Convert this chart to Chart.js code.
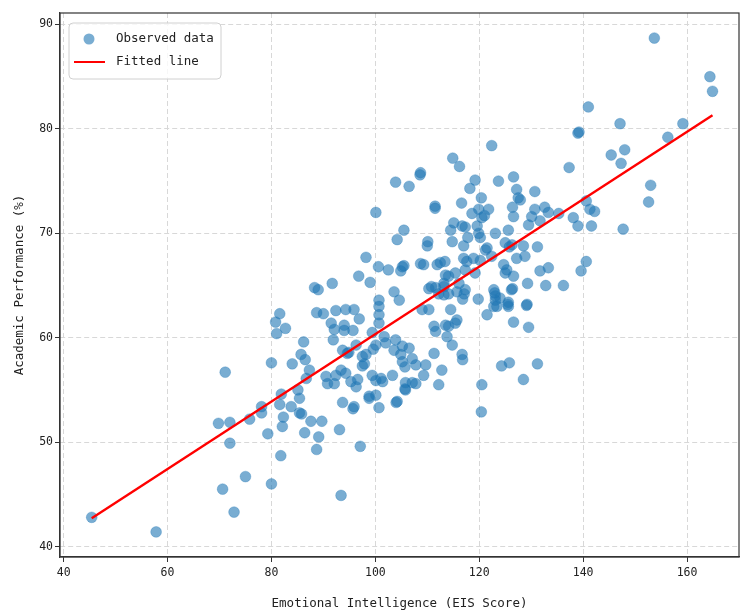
<!DOCTYPE html>
<html>
<head>
<meta charset="utf-8">
<script src="https://cdn.jsdelivr.net/npm/chart.js@4.4.1/dist/chart.umd.min.js"></script>
<style>
  html, body { margin: 0; padding: 0; background: #fff; }
  #wrap { width: 740px; height: 612px; position: relative; }
</style>
</head>
<body>
<div id="wrap"><canvas id="chart"></canvas></div>
<script>
// EIS score (x) and academic performance % (y)
const eisScores = [
    45.4, 57.8, 69.8, 70.6, 71.1, 72.0, 72.0, 72.8, 75.0, 75.8,
    78.1, 78.1, 79.3, 80.0, 80.0, 81.8, 81.6, 80.8, 81.0, 82.7,
    84.0, 85.7, 86.5, 86.2, 87.3, 86.7, 81.9, 81.6, 82.3, 82.1,
    83.8, 85.1, 85.4, 85.4, 85.8, 87.6, 86.4, 89.1, 88.7, 89.7,
    93.1, 93.7, 95.7, 97.1, 93.4, 88.3, 89.0, 91.7, 88.7, 90.0,
    91.5, 92.4, 94.3, 95.9, 96.9, 92.1, 91.9, 94.0, 94.0, 95.7,
    99.4, 96.3, 94.9, 98.2, 97.5, 90.5, 90.8, 92.1, 92.4, 93.4,
    94.3, 95.3, 96.6, 96.3, 99.4, 100.1, 98.8, 99.6, 100.7, 104.0,
    98.8, 100.1, 93.7, 94.6, 97.9, 101.1, 101.4, 103.3, 95.9, 100.1,
    102.0, 101.7, 97.5, 96.8, 99.0, 98.2, 100.6, 102.5, 100.1, 103.9,
    106.5, 108.7, 108.6, 111.5, 111.5, 114.9, 116.2, 105.5, 104.2, 104.9,
    105.5, 110.0, 110.1, 108.7, 109.3, 111.9, 112.5, 113.4, 114.5, 115.1,
    114.8, 113.5, 115.4, 110.8, 111.6, 103.6, 100.7, 113.2, 104.6, 100.7,
    100.7, 100.7, 105.2, 103.9, 103.6, 105.2, 106.5, 104.9, 105.2, 107.1,
    107.8, 109.7, 109.3, 105.8, 107.1, 107.8, 105.8, 104.2, 112.2, 112.8,
    111.3, 114.8, 116.7, 116.8, 113.8, 114.1, 111.3, 111.6, 113.5, 115.4,
    115.7, 114.5, 109.0, 110.3, 120.5, 124.3, 125.8, 126.6, 121.5, 122.8,
    123.1, 124.0, 125.6, 119.8, 114.1, 116.8, 115.7, 110.3, 112.2, 113.2,
    117.1, 126.2, 125.0, 126.6, 119.2, 117.3, 117.6, 121.2, 123.1, 125.0,
    126.3, 139.0, 139.2, 122.4, 137.3, 119.2, 118.2, 123.7, 126.6, 127.2,
    127.5, 130.7, 120.4, 116.6, 119.9, 121.8, 126.4, 126.6, 118.6, 120.5,
    121.0, 130.1, 130.7, 132.6, 133.3, 135.3, 138.1, 139.0, 141.3, 142.2,
    141.6, 129.5, 131.7, 116.7, 117.3, 119.6, 119.9, 125.6, 117.8, 120.2,
    117.0, 121.5, 125.8, 128.5, 131.2, 117.0, 118.9, 120.2, 122.4, 127.2,
    128.8, 124.7, 125.3, 131.7, 133.3, 140.6, 139.6, 129.3, 132.8, 136.2,
    126.4, 122.8, 123.1, 114.1, 116.1, 117.3, 113.2, 125.6, 129.2, 153.7,
    164.4, 164.9, 141.0, 147.1, 159.2, 156.3, 145.4, 148.0, 147.3, 153.0,
    152.6, 140.6, 147.7, 127.9, 120.4, 131.2, 128.5, 105.7, 105.7, 123.0,
    123.4, 125.5, 129.5, 129.1
];
const perfScores = [
    42.8, 41.4, 51.8, 45.5, 56.7, 51.9, 49.9, 43.3, 46.7, 52.2,
    53.4, 52.8, 50.8, 46.0, 57.6, 48.7, 62.3, 61.5, 60.4, 60.9,
    57.5, 58.4, 57.9, 59.6, 56.9, 56.1, 54.6, 53.6, 52.4, 51.5,
    53.4, 55.0, 54.2, 52.8, 52.7, 52.0, 50.9, 50.5, 49.3, 52.0,
    51.2, 53.8, 53.2, 49.6, 44.9, 64.8, 64.6, 65.2, 62.4, 62.3,
    61.4, 62.6, 62.7, 62.7, 61.8, 60.8, 59.8, 61.2, 60.7, 60.7,
    60.5, 59.3, 58.6, 58.4, 57.3, 56.3, 55.6, 55.6, 56.4, 56.9,
    56.6, 55.8, 56.0, 55.3, 56.4, 55.9, 54.4, 58.9, 53.3, 53.8,
    54.2, 54.5, 58.8, 58.5, 57.5, 56.1, 55.8, 56.4, 53.4, 59.3,
    59.5, 60.1, 58.2, 65.9, 65.3, 67.7, 66.8, 66.5, 72.0, 74.9,
    74.5, 75.8, 75.6, 72.6, 72.4, 77.2, 76.4, 70.3, 69.4, 66.4,
    66.9, 68.8, 69.2, 67.1, 67.0, 67.0, 67.2, 67.3, 70.3, 71.0,
    69.2, 66.0, 66.2, 64.9, 64.8, 64.4, 63.6, 65.2, 63.6, 63.0,
    62.2, 61.4, 66.8, 59.8, 58.8, 59.2, 59.0, 58.4, 57.7, 58.0,
    57.4, 57.4, 56.4, 55.7, 55.7, 55.6, 55.0, 53.9, 55.5, 56.9,
    58.5, 59.3, 58.4, 57.9, 60.1, 61.1, 61.1, 60.6, 61.2, 61.4,
    61.7, 62.7, 62.7, 62.7, 55.5, 57.3, 57.6, 61.5, 62.2, 63.0,
    63.6, 63.8, 63.0, 63.7, 64.2, 63.7, 64.4, 64.7, 64.2, 64.1,
    64.2, 64.6, 66.2, 65.9, 66.2, 66.5, 67.3, 68.4, 70.0, 69.1,
    68.9, 79.6, 79.7, 78.4, 76.3, 75.1, 74.3, 75.0, 75.4, 74.2,
    73.4, 74.0, 73.4, 72.9, 72.3, 72.3, 72.5, 71.6, 71.9, 71.5,
    71.7, 71.6, 72.3, 72.5, 72.0, 71.9, 71.5, 70.7, 72.3, 72.1,
    70.7, 70.8, 71.2, 70.7, 70.6, 70.7, 70.0, 70.3, 69.6, 69.6,
    68.8, 68.6, 68.7, 68.8, 68.7, 67.6, 67.6, 67.4, 67.8, 67.6,
    67.8, 67.0, 66.5, 66.4, 66.7, 67.3, 66.4, 65.2, 65.0, 65.0,
    64.7, 64.6, 64.0, 65.9, 65.2, 64.6, 64.9, 63.4, 63.2, 88.7,
    85.0, 83.6, 82.1, 80.5, 80.5, 79.2, 77.5, 78.0, 76.7, 74.6,
    73.0, 73.1, 70.4, 73.2, 52.9, 57.5, 56.0, 57.2, 55.1, 64.3,
    63.0, 63.2, 61.0, 63.1
];

// end points of the fitted regression line
const fitX = [45.4, 164.9];
const fitY = [42.7, 81.3];

const xTicks = [40, 60, 80, 100, 120, 140, 160];
const yTicks = [40, 50, 60, 70, 80, 90];

const FONT = "'DejaVu Sans Mono', monospace";
const TEXT = '#222';

// box around the plot + legend in the upper-left corner (matplotlib style)
const framePlugin = {
    id: 'frame',
    afterDraw(chart) {
        const { ctx, chartArea: a } = chart;
        ctx.save();
        ctx.strokeStyle = '#333';
        ctx.lineWidth = 1.2;
        ctx.strokeRect(a.left, a.top, a.right - a.left, a.bottom - a.top);

        // legend
        const lx = a.left + 9, ly = a.top + 10, lw = 152, lh = 56;
        ctx.beginPath();
        ctx.roundRect(lx, ly, lw, lh, 4);
        ctx.fillStyle = 'rgba(255,255,255,0.8)';
        ctx.fill();
        ctx.strokeStyle = '#d0d0d0';
        ctx.lineWidth = 1;
        ctx.stroke();

        const ds = chart.data.datasets;
        ctx.beginPath();
        ctx.arc(lx + 20, ly + 16, 5.5, 0, Math.PI * 2);
        ctx.fillStyle = 'rgba(31,119,180,0.6)';
        ctx.fill();

        ctx.beginPath();
        ctx.moveTo(lx + 5, ly + 39);
        ctx.lineTo(lx + 36, ly + 39);
        ctx.strokeStyle = '#ff0000';
        ctx.lineWidth = 2;
        ctx.stroke();

        ctx.fillStyle = TEXT;
        ctx.font = '12.5px ' + FONT;
        ctx.textBaseline = 'middle';
        ctx.fillText(ds[1].label, lx + 47, ly + 16);
        ctx.fillText(ds[0].label, lx + 47, ly + 39);
        ctx.restore();
    }
};

const points = eisScores.map((x, i) => ({ x: x, y: perfScores[i] }));
const fitPoints = fitX.map((x, i) => ({ x: x, y: fitY[i] }));

new Chart(document.getElementById('chart'), {
    type: 'scatter',
    data: {
        datasets: [
            {
                type: 'line',
                label: 'Fitted line',
                data: fitPoints,
                borderColor: '#ff0000',
                borderWidth: 2.4,
                pointRadius: 0,
                fill: false,
                order: 0
            },
            {
                label: 'Observed data',
                data: points,
                backgroundColor: 'rgba(31,119,180,0.6)',
                borderColor: 'rgba(31,119,180,0.6)',
                borderWidth: 0.5,
                pointRadius: 5.4,
                order: 1
            }
        ]
    },
    options: {
        responsive: true,
        maintainAspectRatio: false,
        animation: false,
        layout: { autoPadding: false, padding: { top: 13, right: 1, left: 0, bottom: 0 } },
        plugins: {
            legend: { display: false },
            tooltip: { enabled: false }
        },
        scales: {
            x: {
                type: 'linear',
                min: 39.3,
                max: 170,
                afterBuildTicks: s => { s.ticks = xTicks.map(v => ({ value: v })); },
                afterFit: s => { s.height = 55; },
                ticks: {
                    color: TEXT,
                    font: { family: FONT, size: 11.5 },
                    padding: 4
                },
                grid: {
                    color: '#d8d8d8',
                    tickColor: '#333',
                    tickLength: 5,
                    tickWidth: 1
                },
                border: { color: '#333', width: 1.2, dash: [5, 3] },
                title: {
                    display: true,
                    text: 'Emotional Intelligence (EIS Score)',
                    color: TEXT,
                    font: { family: FONT, size: 12.5 },
                    padding: { top: 0, bottom: 1 }
                }
            },
            y: {
                type: 'linear',
                min: 39.0,
                max: 91.1,
                afterBuildTicks: s => { s.ticks = yTicks.map(v => ({ value: v })); },
                afterFit: s => { s.width = 60; },
                ticks: {
                    color: TEXT,
                    font: { family: FONT, size: 11.5 },
                    padding: 2
                },
                grid: {
                    color: '#d8d8d8',
                    tickColor: '#333',
                    tickLength: 5,
                    tickWidth: 1
                },
                border: { color: '#333', width: 1.2, dash: [5, 3] },
                title: {
                    display: true,
                    text: 'Academic Performance (%)',
                    color: TEXT,
                    font: { family: FONT, size: 12.5 },
                    padding: { top: 12, bottom: 0 }
                }
            }
        }
    },
    plugins: [framePlugin]
});
</script>
</body>
</html>
